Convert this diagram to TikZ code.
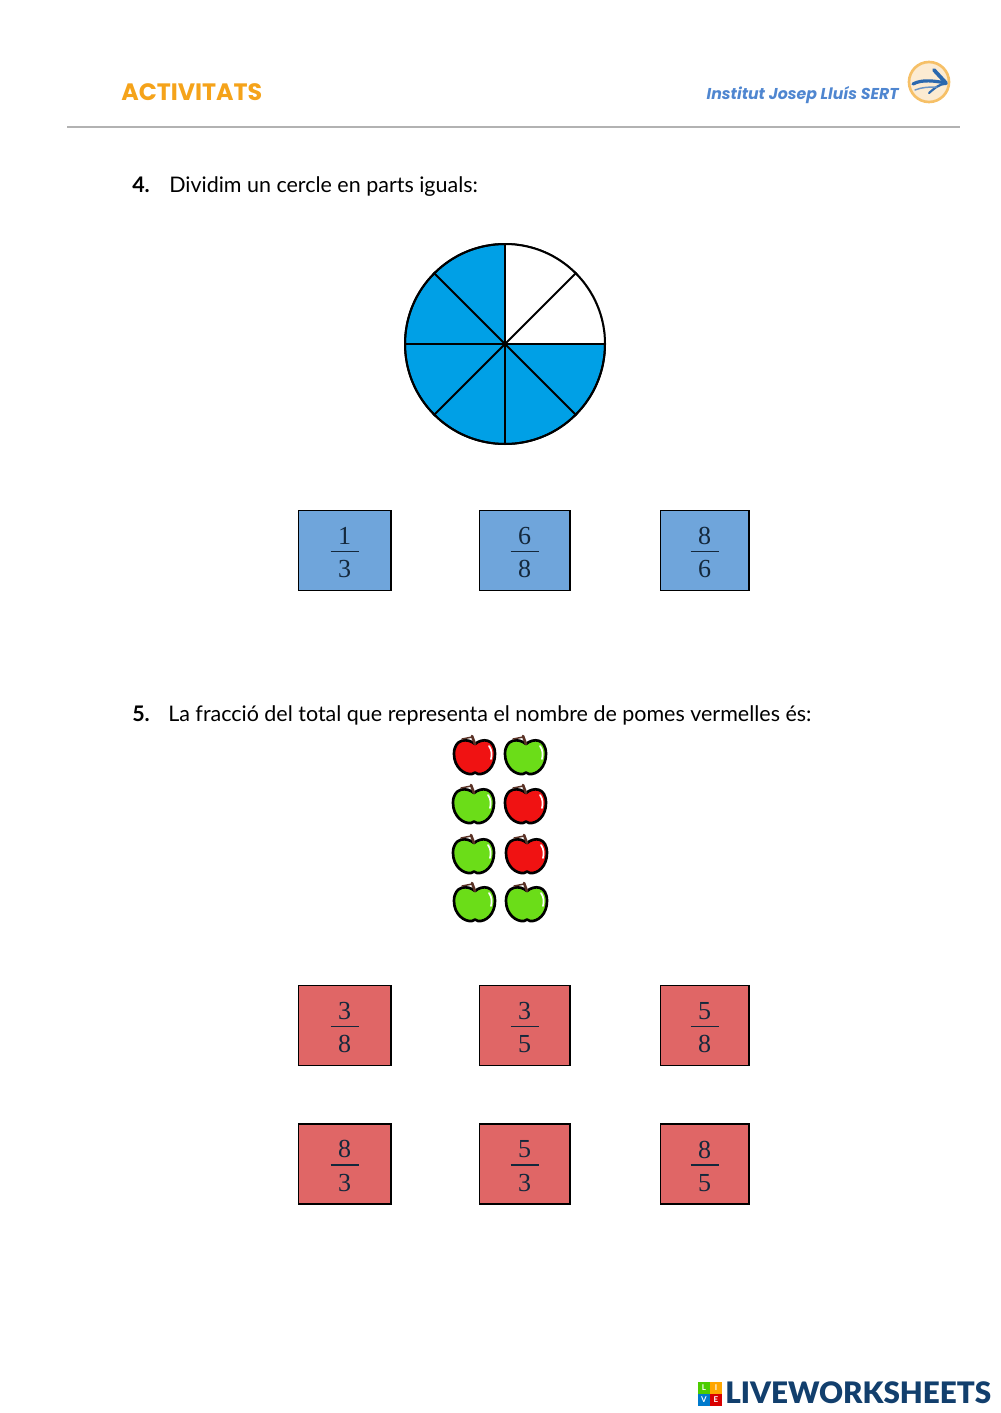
\documentclass[tikz,border=0pt]{standalone}
\usepackage{amsmath}
\usepackage{fontspec}
\usepackage{tikz}
\setmainfont{Lato}
\newfontfamily\headfont{Poppins}
\newfontfamily\brandfont{Lato Black}
\newfontfamily\cardfont{Liberation Serif}
\definecolor{headorange}{HTML}{F5A31A}
\definecolor{sertblue}{HTML}{4F86D0}
\definecolor{logoblue}{HTML}{2B68AE}
\definecolor{logoring}{HTML}{F6C067}
\definecolor{logopale}{HTML}{FCEBD2}
\definecolor{wheelblue}{HTML}{00A0E6}
\definecolor{cardblue}{HTML}{6FA5DB}
\definecolor{cardred}{HTML}{E06666}
\definecolor{inknavy}{HTML}{14283C}
\definecolor{brandnavy}{HTML}{123F6D}
\definecolor{applered}{HTML}{F01212}
\definecolor{applegreen}{HTML}{6BDD18}
\definecolor{stembrown}{HTML}{5A3226}
\newcommand{\carddigit}[1]{\hbox to 21pt{\hss\cardfont\fontsize{19.5}{21}\selectfont #1\hss}}
\newcommand{\cardfrac}[2]{\color{inknavy}\vbox{\kern3pt\carddigit{#1}\kern4.6pt\hrule height 1.2pt\kern6pt\carddigit{#2}}}
\tikzset{
	pics/apple/.style={code={
		\draw[line width=2pt,fill=#1,line join=round] (0,-13) .. controls (-7,-19) and (-21,-19) .. (-21,-3)
		.. controls (-21,10) and (-11,18) .. (-3,17) .. controls (-1,15) and (1,15) .. (3,17)
		.. controls (11,18) and (20,10) .. (20,-3) .. controls (20,-19) and (7,-19) .. (0,-13) -- cycle;
		\draw[line width=1.3pt,white,line cap=round] (14,-11) .. controls (17,-7) and (17,-2) .. (16,2);
		\draw[line width=2pt,stembrown,line cap=round] (0,-13) -- (-3,-21);
		\draw[line width=1.1pt,stembrown,line cap=round] (-3,-20) -- (-13,-18);
	}}
}
\begin{document}
\begin{tikzpicture}[x=0.75pt,y=-0.75pt,
		head text/.style={font=\headfont\bfseries\fontsize{17.8}{20}\selectfont,text=headorange,inner sep=0pt},
		task text/.style={font=\fontsize{16.1}{19}\selectfont,inner sep=0pt,anchor=base west},
		blue card/.style={draw,line width=1pt,fill=cardblue,minimum height=60pt,inner sep=0pt},
		red card/.style={draw,line width=1pt,fill=cardred,minimum height=60pt,inner sep=0pt},
		brand tile/.style={minimum size=8.6pt,inner sep=0pt,text=white,font=\bfseries\fontsize{6}{6}\selectfont},
		spoke/.style={line width=1.5pt}]
	\useasboundingbox (0,0) rectangle (1000,1413);
	
	% header
	\node[head text,anchor=west] (title) at (121,92) {ACTIVITATS};
	\node[inner sep=0pt,anchor=east,text=sertblue,font=\headfont\bfseries\itshape\fontsize{11.8}{13}\selectfont] (school) at (899,95) {Institut Josep Lluís SERT};
	\node[circle,draw=logoring,line width=2pt,fill=logopale,minimum size=30pt,inner sep=0pt] (logo) at (929,82) {};
	\draw[logoblue,line width=2.4pt,line cap=round] (913,84) .. controls (922,79) and (935,81) .. (946,83);
	\draw[logoblue,line width=2.8pt,line cap=round] (934,70) -- (946,83);
	\draw[logoblue,line width=1.6pt,line cap=round] (946,84) .. controls (938,84) and (934,89) .. (929,93);
	\draw[logoblue!70,line width=1.1pt,line cap=round] (915,90) .. controls (922,87) and (930,87) .. (937,87);
	\coordinate (ruleL) at (67,127);
	\coordinate (ruleR) at (960,127);
	\draw[black!30,line width=.8pt] (ruleL) -- (ruleR);
	
	% question 4
	\node[task text] (num4) at (132,192) {\textbf{4.}};
	\node[task text] (text4) at (169,192) {Dividim un cercle en parts iguals:};
	
	\node[circle,draw,line width=1.5pt,fill=wheelblue,minimum size=150pt,inner sep=0pt] (wheel) at (505,344) {};
	\fill[white] (wheel.center) -- (wheel.east) arc[start angle=0,end angle=90,radius=75pt] -- cycle;
	\path[spoke]
	(wheel.center) edge (wheel.45)
	edge (wheel.135)
	edge (wheel.225)
	edge (wheel.315);
	\path[line width=1.1pt]
	(wheel.north) edge (wheel.south);
	\draw[line width=2pt] (wheel.west) -- (wheel.east);
	\node[circle,draw,line width=1.5pt,minimum size=150pt,inner sep=0pt] (rim) at (505,344) {};
	\node[circle,fill,minimum size=4pt,inner sep=0pt] (hub) at (505,344) {};
	
	\node[blue card,minimum width=69.5pt] (b1) at (344.5,550.5) {\cardfrac{1}{3}};
	\node[blue card,minimum width=68pt] (b2) at (524.5,550.5) {\cardfrac{6}{8}};
	\node[blue card,minimum width=66.5pt] (b3) at (704.5,550.5) {\cardfrac{8}{6}};
	
	% question 5
	\node[task text] (num5) at (132,721) {\textbf{5.}};
	\node[task text] (text5) at (168,721) {La fracció del total que representa el nombre de pomes vermelles és:};
	
	\pic at (475,757) {apple=applered};
	\pic at (526,757) {apple=applegreen};
	\pic at (474,806) {apple=applegreen};
	\pic at (526,806) {apple=applered};
	\pic at (474,856) {apple=applegreen};
	\pic at (527,856) {apple=applered};
	\pic at (475,904) {apple=applegreen};
	\pic at (527,904) {apple=applegreen};
	
	\node[red card,minimum width=69.5pt] (r1) at (344.5,1025.5) {\cardfrac{3}{8}};
	\node[red card,minimum width=68pt] (r2) at (524.5,1025.5) {\cardfrac{3}{5}};
	\node[red card,minimum width=66.5pt] (r3) at (704.5,1025.5) {\cardfrac{5}{8}};
	\node[red card,minimum width=69.5pt] (r4) at (344.5,1164) {\cardfrac{8}{3}};
	\node[red card,minimum width=68pt] (r5) at (524.5,1164) {\cardfrac{5}{3}};
	\node[red card,minimum width=66.5pt] (r6) at (704.5,1164) {\cardfrac{8}{5}};
	
	% footer
	\node[brand tile,fill=lime!50!green!80!black] (tileL) at (704,1388) {L};
	\node[brand tile,fill=orange!70!yellow] (tileI) at (716,1388) {I};
	\node[brand tile,fill=blue!40!cyan!80!black] (tileV) at (704,1400) {V};
	\node[brand tile,fill=red!85!black] (tileE) at (716,1400) {E};
	\node[inner sep=0pt,anchor=west,text=brandnavy,font=\brandfont\fontsize{22.2}{24}\selectfont] (brand) at (725,1393) {LIVEWORKSHEETS};
\end{tikzpicture}
\end{document}
